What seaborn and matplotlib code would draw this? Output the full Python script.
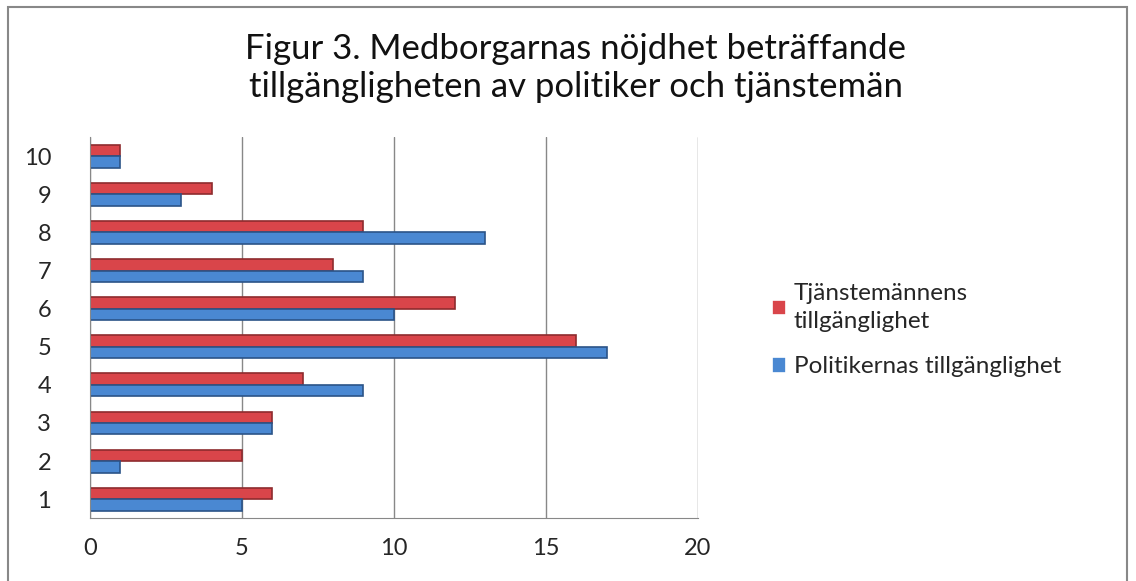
import matplotlib
matplotlib.use("Agg")
from matplotlib import pyplot as plt
from matplotlib.patches import Rectangle
import pandas as pd
import seaborn as sns

# data
categories = ['1', '2', '3', '4', '5', '6', '7', '8', '9', '10']
politiker = [5, 1, 6, 9, 17, 10, 9, 13, 3, 1]
tjanstemän = [6, 5, 6, 7, 16, 12, 8, 9, 4, 1]
series_names = ['Tjänstemännens\ntillgänglighet', 'Politikernas tillgänglighet']
x_ticks = [0, 5, 10, 15, 20]
title = 'Figur 3. Medborgarnas nöjdhet beträffande\ntillgängligheten av politiker och tjänstemän'

df = pd.DataFrame({
    'kategori': categories * 2,
    'antal': tjanstemän + politiker,
    'serie': [series_names[0]] * len(categories) + [series_names[1]] * len(categories),
})

sns.set_style('white')
plt.rcParams['font.family'] = ['Lato', 'DejaVu Sans']

fig = plt.figure(figsize=(11.36, 5.81), dpi=100)
ax = fig.add_axes([0.0792, 0.108, 0.535, 0.656])

palette = {series_names[0]: '#D9454A', series_names[1]: '#4A88D2'}
sns.barplot(data=df, x='antal', y='kategori', hue='serie', orient='h',
            order=categories[::-1], hue_order=series_names, palette=palette,
            width=0.6, saturation=1, ax=ax, linewidth=1.2)

# darker edges for a bit of the 3D look
edge = {series_names[0]: '#8E2B2E', series_names[1]: '#2B5488'}
for cont, name in zip(ax.containers, series_names):
    for bar in cont:
        bar.set_edgecolor(edge[name])

ax.set_xlim(0, 20)
ax.set_ylim(len(categories) - 0.5, -0.5)
ax.set_xticks(x_ticks)
ax.set_xlabel('')
ax.set_ylabel('')
ax.tick_params(axis='x', labelsize=17, length=8, color='#888888', direction='out', pad=6)
ax.tick_params(axis='y', which='major', labelsize=17, length=0, pad=28)
ax.set_yticks([i + 0.5 for i in range(-1, len(categories))], minor=True)
ax.tick_params(axis='y', which='minor', length=8, color='#888888', direction='out')
ax.xaxis.grid(True, color='#888888', linewidth=1)
ax.set_axisbelow(True)
for s in ['top', 'right']:
    ax.spines[s].set_visible(False)
for s in ['left', 'bottom']:
    ax.spines[s].set_color('#888888')

leg = ax.legend(handles=ax.get_legend_handles_labels()[0],
                labels=series_names, loc='center left',
                bbox_to_anchor=(0.66, 0.432), bbox_transform=fig.transFigure,
                frameon=False, fontsize=17.5, handlelength=0.6, handleheight=0.6,
                handletextpad=0.3, labelspacing=1.0)
for t in leg.get_texts():
    t.set_linespacing(1.45)

fig.text(0.507, 0.883, title, ha='center', va='center', fontsize=25,
         linespacing=1.25, color='#111111')

fig.patches.append(Rectangle((0.007, -0.01), 0.985, 0.998, transform=fig.transFigure,
                             fill=False, edgecolor='#888888', linewidth=1.5))

fig.savefig('out.png', dpi=100, facecolor='white')
